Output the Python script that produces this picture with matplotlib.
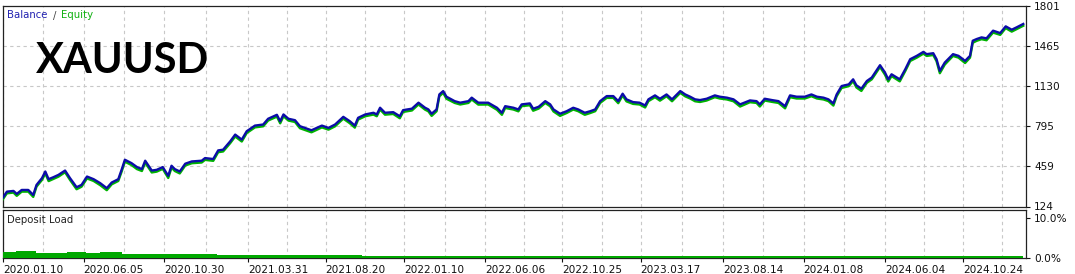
import pandas as pd
import numpy as np
import matplotlib
matplotlib.use('Agg')
import matplotlib.pyplot as plt

# days since 2020-01-10 and balance / equity
start = pd.Timestamp('2020-01-10')
days = [0, 7, 19, 25, 34, 46, 55, 61, 71, 77,
        83, 92, 101, 113, 122, 134, 143, 153, 165, 177,
        189, 198, 210, 216, 222, 234, 244, 253, 259, 271,
        280, 291, 301, 307, 313, 322, 332, 344, 362, 368,
        383, 392, 401, 414, 423, 435, 444, 459, 474, 483,
        499, 505, 511, 520, 532, 541, 562, 581, 593, 605,
        620, 632, 641, 647, 660, 675, 681, 687, 696, 711,
        723, 729, 745, 757, 769, 775, 781, 790, 795, 802,
        808, 823, 833, 848, 854, 866, 884, 900, 909, 915,
        930, 939, 945, 960, 966, 976, 988, 997, 1003, 1015,
        1027, 1039, 1048, 1060, 1070, 1079, 1088, 1100, 1112, 1121,
        1129, 1136, 1148, 1160, 1170, 1176, 1188, 1197, 1209, 1219,
        1234, 1243, 1252, 1261, 1270, 1282, 1297, 1306, 1319, 1331,
        1343, 1361, 1373, 1379, 1388, 1401, 1413, 1425, 1434, 1446,
        1461, 1473, 1483, 1495, 1504, 1513, 1519, 1528, 1541, 1549,
        1555, 1564, 1574, 1583, 1598, 1607, 1613, 1619, 1634, 1644,
        1653, 1665, 1677, 1683, 1695, 1701, 1707, 1716, 1731, 1741,
        1753, 1762, 1767, 1774, 1783, 1792, 1804, 1817, 1827, 1838,
        1847, 1859]

balance = [200, 248, 254, 229, 262, 262, 220, 304, 361, 416,
           352, 369, 388, 424, 361, 285, 304, 374, 352, 319,
           277, 324, 352, 430, 514, 486, 453, 436, 506, 424,
           430, 453, 380, 464, 436, 416, 481, 500, 506, 528,
           520, 592, 598, 668, 724, 682, 752, 799, 808, 856,
           889, 835, 892, 856, 844, 794, 760, 799, 780, 808,
           872, 835, 799, 864, 892, 906, 892, 948, 906, 911,
           877, 928, 940, 990, 948, 934, 898, 934, 1059, 1087,
           1040, 1003, 990, 1003, 1032, 990, 990, 948, 906, 961,
           948, 934, 976, 984, 940, 956, 1003, 976, 934, 898,
           919, 948, 934, 906, 919, 934, 1003, 1045, 1045, 1003,
           1065, 1018, 995, 990, 967, 1018, 1051, 1023, 1059, 1018,
           1087, 1059, 1040, 1018, 1012, 1023, 1051, 1040, 1032, 1018,
           976, 1009, 1003, 976, 1023, 1012, 1003, 961, 1051, 1040,
           1040, 1059, 1040, 1032, 1018, 984, 1059, 1129, 1143, 1185,
           1135, 1107, 1171, 1200, 1303, 1242, 1185, 1227, 1185, 1269,
           1353, 1381, 1414, 1395, 1403, 1353, 1255, 1325, 1395, 1381,
           1339, 1381, 1507, 1521, 1535, 1527, 1591, 1571, 1627, 1599,
           1619, 1647]

equity = [186, 234, 240, 213, 248, 248, 204, 290, 346, 400,
          336, 354, 373, 410, 346, 268, 289, 358, 337, 302,
          260, 309, 337, 414, 498, 470, 436, 420, 490, 408,
          415, 438, 362, 449, 420, 400, 466, 485, 491, 513,
          505, 577, 583, 653, 708, 666, 737, 784, 793, 841,
          874, 818, 877, 841, 829, 777, 743, 784, 765, 793,
          857, 818, 782, 849, 877, 891, 877, 933, 890, 896,
          860, 913, 925, 975, 932, 918, 880, 919, 1043, 1072,
          1023, 988, 975, 988, 1017, 974, 975, 931, 889, 946,
          933, 918, 961, 969, 923, 941, 988, 960, 917, 880,
          904, 933, 919, 889, 904, 919, 988, 1030, 1030, 986,
          1050, 1001, 980, 975, 950, 1003, 1036, 1007, 1044, 1002,
          1072, 1043, 1025, 1002, 996, 1008, 1036, 1025, 1017, 1002,
          958, 994, 988, 958, 1008, 997, 988, 943, 1036, 1025,
          1025, 1044, 1025, 1017, 1003, 966, 1044, 1113, 1128, 1170,
          1117, 1088, 1156, 1185, 1288, 1224, 1167, 1212, 1168, 1254,
          1338, 1366, 1399, 1380, 1388, 1336, 1236, 1308, 1380, 1366,
          1321, 1366, 1490, 1506, 1520, 1511, 1575, 1556, 1612, 1583,
          1604, 1632]

# deposit load (%)
load_days = [0, 23, 60, 76, 117, 151, 177, 217, 368, 390, 623, 654, 1859]
load_pct = [1.43, 1.6, 1.26, 1.09, 1.34, 1.18, 1.43, 1.0, 0.84, 0.67, 0.59, 0.42, 0.42]

y_ticks = [124, 459, 795, 1130, 1465, 1801]
load_ticks = [0, 10]
load_tick_labels = ['0.0%', '10.0%']
date_labels = ['2020.01.10', '2020.06.05', '2020.10.30', '2021.03.31', '2021.08.20',
               '2022.01.10', '2022.06.06', '2022.10.25', '2023.03.17', '2023.08.14',
               '2024.01.08', '2024.06.04', '2024.10.24']

dates = start + pd.to_timedelta(days, unit='D')
load_dates = start + pd.to_timedelta(load_days, unit='D')
tick_dates = pd.to_datetime(date_labels, format='%Y.%m.%d')
mid_dates = tick_dates[:-1] + (tick_dates[1:] - tick_dates[:-1]) / 2
grid_dates = list(tick_dates) + list(mid_dates) + [tick_dates[-1] + (tick_dates[-1] - tick_dates[-2]) / 2]

W, H = 1075, 274
fig = plt.figure(figsize=(W / 100, H / 100), dpi=100)
fig.patch.set_facecolor('white')

def px_axes(x0, y0, x1, y1):
    return fig.add_axes([x0 / W, 1 - y1 / H, (x1 - x0) / W, (y1 - y0) / H])

ax = px_axes(2.5, 5.5, 1026, 206.5)
ax2 = px_axes(2.5, 209.5, 1026, 257.7)

grid_kw = dict(color='#c8c8c8', lw=0.8, ls=(0, (3, 3)), zorder=0)
xmin = start - pd.Timedelta(days=1)
xmax = start + pd.Timedelta(days=1864)

# main panel
ax.plot(dates, equity, color='#00b400', lw=1.7, zorder=3)
ax.plot(dates, balance, color='#0c0ca8', lw=1.7, zorder=4)
ax.set_ylim(124, 1801)
ax.set_xlim(xmin, xmax)
for v in y_ticks[1:-1]:
    ax.axhline(v, **grid_kw)
for d in grid_dates:
    ax.axvline(d, **grid_kw)
ax.set_yticks(y_ticks)
ax.set_xticks([])
ax.yaxis.tick_right()
ax.tick_params(axis='y', length=3, width=0.8, pad=3, labelsize=7.6, colors='#111111')

# deposit load panel
ax2.fill_between(load_dates, load_pct, step='post', color='#00a800', lw=0, zorder=3)
ax2.set_ylim(0, 12.2)
ax2.set_xlim(xmin, xmax)
for d in grid_dates:
    ax2.axvline(d, **grid_kw)
ax2.set_yticks(load_ticks)
ax2.set_yticklabels(load_tick_labels)
ax2.yaxis.tick_right()
ax2.tick_params(axis='y', length=3, width=0.8, pad=3, labelsize=7.6, colors='#111111')
ax2.set_xticks(tick_dates)
ax2.set_xticklabels(date_labels, ha='left')
ax2.tick_params(axis='x', length=3, width=0.8, pad=2, labelsize=7.6, colors='#111111')

for a in (ax, ax2):
    for s in a.spines.values():
        s.set_color('#222222')
        s.set_linewidth(0.9)

# texts
fig.text(7 / W, 1 - 18.5 / H, 'Balance', color='#2020b0', fontsize=7.3, va='baseline')
fig.text(53 / W, 1 - 18.5 / H, '/', color='#444444', fontsize=7.3, va='baseline')
fig.text(61 / W, 1 - 18.5 / H, 'Equity', color='#10b010', fontsize=7.3, va='baseline')
fig.text(36 / W, 1 - 73 / H, 'XAUUSD', color='black', fontsize=30, fontweight='bold',
         family='Lato', va='baseline')
fig.text(7 / W, 1 - 223 / H, 'Deposit Load', color='#222222', fontsize=7.3, va='baseline')

fig.savefig('out.png', dpi=100)
